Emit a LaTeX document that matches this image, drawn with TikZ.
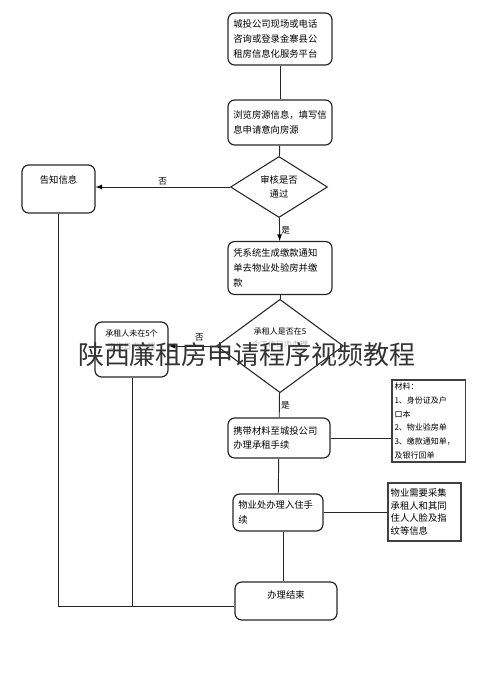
\documentclass[tikz,border=0pt]{standalone}
\usepackage{fontspec}
\setmainfont{Noto Sans CJK SC}
\usetikzlibrary{shapes.geometric,arrows}

\begin{document}
\begin{tikzpicture}[x=0.75pt,y=-0.75pt,>=latex,
  box/.style={draw=black!85, line width=0.9pt, rounded corners=5pt, align=left,
    inner xsep=4pt, inner ysep=2pt, font=\fontsize{7pt}{11pt}\selectfont},
  note/.style={draw=black!75, line width=0.8pt, align=left, inner sep=2pt},
  check/.style={diamond, draw=black!85, line width=0.8pt, align=center, inner sep=0pt},
  line/.style={draw=black!85, line width=0.7pt},
  lbl/.style={font=\fontsize{6.5pt}{7pt}\selectfont, inner sep=1pt}]
  \useasboundingbox (0,0) rectangle (490,697);

  % main column
  \node[box, text width=70pt, minimum height=39pt] (visit) at (280,39)
    {城投公司现场或电话\\咨询或登录金寨县公\\租房信息化服务平台};
  \node[box, text width=70pt, minimum height=33.75pt] (apply) at (280,122.5)
    {浏览房源信息，填写信\\息申请意向房源};
  \node[check, minimum width=72.75pt, minimum height=45.75pt,
    font=\fontsize{7pt}{11pt}\selectfont] (audit) at (279,187) {审核是否\\通过};
  \node[box, text width=70pt, minimum height=39.75pt] (notice) at (280,268)
    {凭系统生成缴款通知\\单去物业处验房并缴\\款};
  \node[check, minimum width=95.25pt, minimum height=60.75pt,
    font=\fontsize{6pt}{10pt}\selectfont] (intime) at (280,346)
    {承租人是否在5\\{\color{black!30}个工作日内办理}\\\strut};
  \node[box, text width=68.5pt, minimum height=30pt] (sign) at (279,438)
    {携带材料至城投公司\\办理承租手续};
  \node[box, text width=59.5pt, minimum height=27.75pt] (move) at (278,512.5)
    {物业处办理入住手\\续};
  \node[box, align=center, minimum width=76.5pt, text height=10.5pt, text depth=14pt]
    (finish) at (286,601) {办理结束};

  % side boxes
  \node[box, align=center, minimum width=54.75pt, text height=12pt, text depth=20pt]
    (tell) at (58.5,189) {告知信息};
  \node[box, align=center, text width=46.75pt, text height=8.5pt, text depth=28.75pt,
    font=\fontsize{6pt}{10pt}\selectfont] (late) at (131.5,349.5)
    {承租人未在5个\\{\color{black!30}工作日内办理}};
  \node[note, text width=51pt, minimum height=61.5pt, inner sep=1.9pt,
    font=\fontsize{6pt}{10.3pt}\selectfont] (docs) at (428.5,421)
    {材料：\\1、身份证及户\\口本\\2、物业验房单\\3、缴款通知单，\\及银行回单};
  \node[note, text width=50.75pt, minimum height=43.5pt,
    font=\fontsize{7pt}{9.6pt}\selectfont] (face) at (424.5,512)
    {物业需要采集\\承租人和其同\\住人人脸及指\\纹等信息};

  \coordinate (join) at ([yshift=-3.75pt]finish.west);

  \path[line]
  (visit) edge (apply)
  (apply) edge (audit)
  (audit.west) edge[->] node[lbl, above] {否} (audit.west -| tell.east)
  (audit) edge[->] node[lbl, right, pos=0.55] {是} (notice)
  (notice) edge (intime)
  (intime.west) edge[->] node[lbl, above=2.5pt, pos=0.35] {否} (intime.west -| late.east)
  (intime) edge node[lbl, right, pos=0.5] {是} (sign)
  (sign.east) edge (sign.east -| docs.west)
  (sign) edge (move)
  (move.east) edge (move.east -| face.west)
  ([xshift=3.75pt]move.south) edge ([xshift=3.75pt]move.south |- finish.north)
  ;
  \draw[line] (tell.south) |- (join);
  \draw[line] ([xshift=1pt]late.south) -- ([xshift=1pt]late.south |- join);

  % watermark
  \node[text=black!80, font=\fontsize{19.5pt}{20pt}\selectfont] (mark) at (247,355)
    {陕西廉租房申请程序视频教程};
\end{tikzpicture}
\end{document}
